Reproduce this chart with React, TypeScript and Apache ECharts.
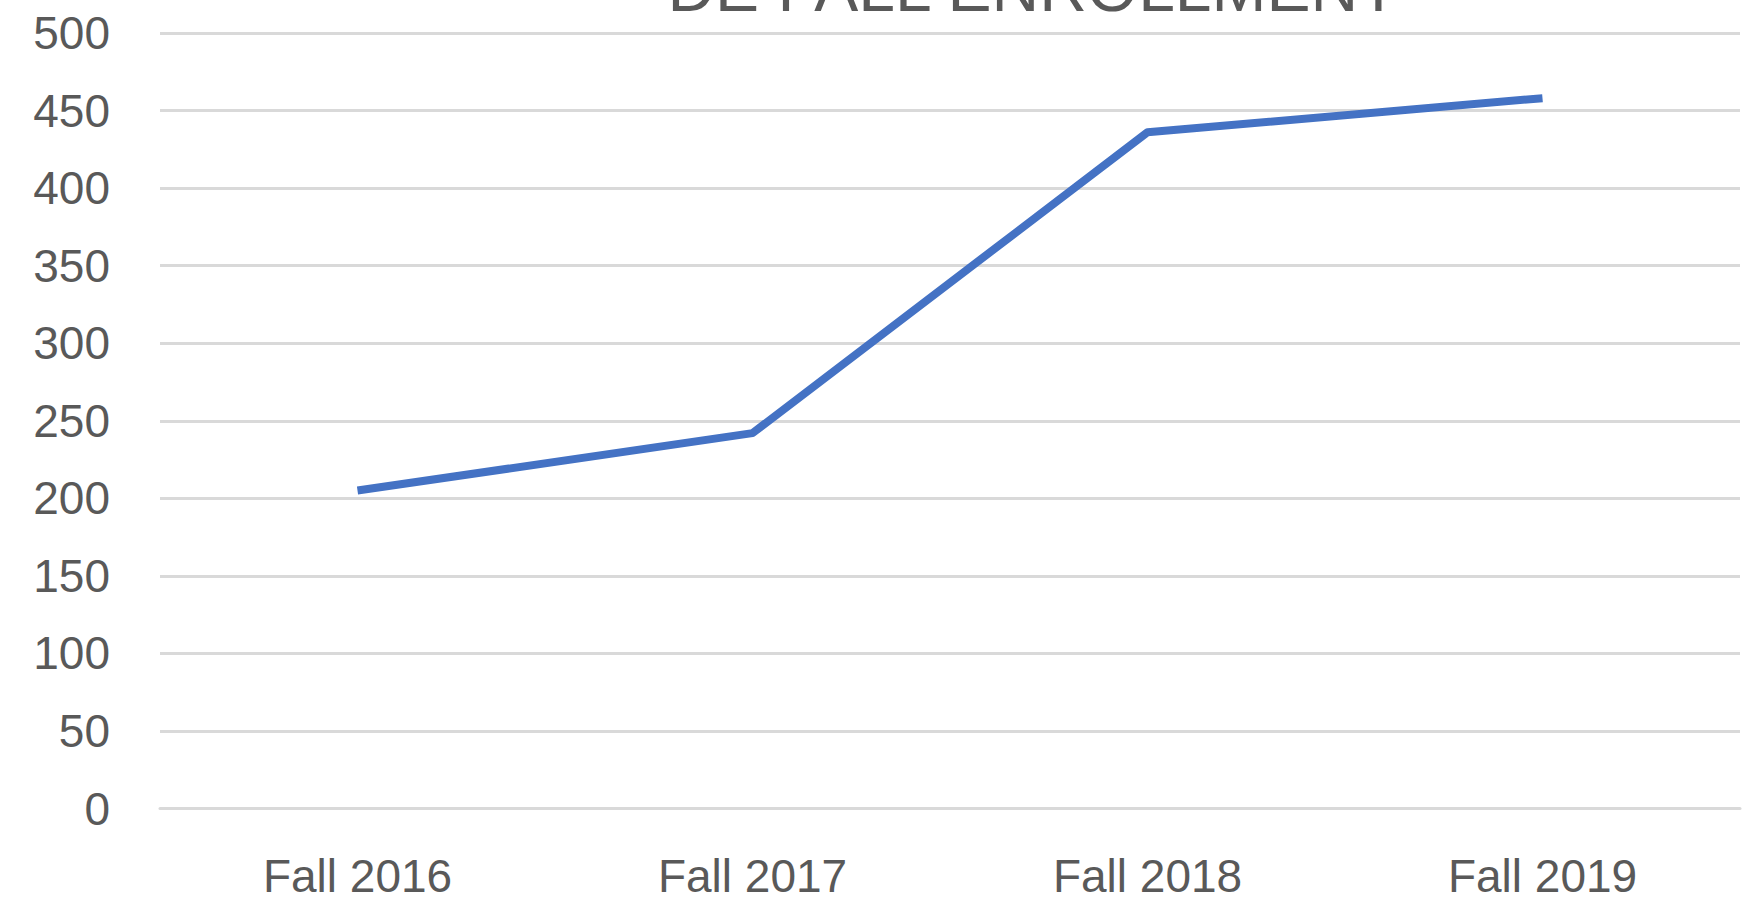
import React, { useEffect, useRef } from "react";
import * as echarts from "echarts";

const categories = ["Fall 2016", "Fall 2017", "Fall 2018", "Fall 2019"];
const enrollment = [205, 242, 436, 458];
const titleText = "DE FALL ENROLLMENT";

export default function App() {
  const ref = useRef<HTMLDivElement>(null);
  useEffect(() => {
    if (!ref.current) return;
    const chart = echarts.init(ref.current, null, { renderer: "svg" });
    chart.setOption({
      animation: false,
      backgroundColor: "#ffffff",
      textStyle: { fontFamily: "Liberation Sans" },
      graphic: [
        {
          type: "text",
          x: 1033,
          y: -12,
          style: {
            text: titleText,
            x: 0,
            y: 0,
            fill: "#595959",
            font: "66px 'Liberation Sans'",
            textAlign: "center",
            textVerticalAlign: "middle",
          },
        },
      ],
      grid: { left: 160, right: 16, top: 33, bottom: 99.5, containLabel: false },
      xAxis: {
        type: "category",
        data: categories,
        boundaryGap: true,
        axisLine: { show: true, lineStyle: { color: "#d9d9d9", width: 3 } },
        axisTick: { show: false },
        axisLabel: { color: "#595959", fontSize: 46, margin: 44, fontFamily: "Liberation Sans" },
        splitLine: { show: false },
      },
      yAxis: {
        type: "value",
        min: 0,
        max: 500,
        interval: 50,
        axisLine: { show: false },
        axisTick: { show: false },
        axisLabel: { color: "#595959", fontSize: 46, margin: 50, fontFamily: "Liberation Sans" },
        splitLine: { show: true, lineStyle: { color: "#d9d9d9", width: 3 } },
      },
      series: [
        {
          type: "line",
          data: enrollment,
          symbol: "none",
          smooth: false,
          lineStyle: { color: "#4472C4", width: 8, cap: "butt", join: "round" },
        },
      ],
    });
    return () => chart.dispose();
  }, []);
  return (
    <div
      ref={ref}
      style={{ position: "fixed", left: 0, top: 0, width: 1756, height: 908 }}
    />
  );
}
